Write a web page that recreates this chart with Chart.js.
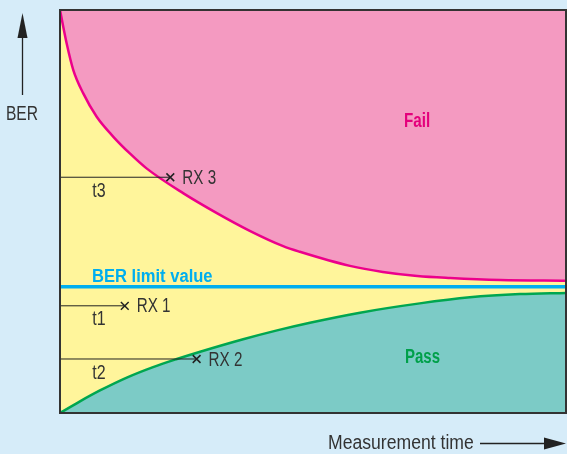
<!DOCTYPE html>
<html>
<head>
<meta charset="utf-8">
<script src="https://cdn.jsdelivr.net/npm/chart.js@4/dist/chart.umd.min.js"></script>
<style>
  html, body { margin: 0; padding: 0; background: #d6ecf9; }
  #wrap { width: 567px; height: 454px; }
</style>
</head>
<body>
<div id="wrap"><canvas id="berChart" width="567" height="454"></canvas></div>
<script>
const failX = [0, 1.32, 2.63, 4.6, 7.25, 10.5, 13.8, 17.1, 24.4, 31.0, 37.5, 44.1, 47.4, 57.3, 63.8, 70.6, 77.1, 87.0, 100];
const failY = [100, 91.7, 85.1, 79.3, 73.5, 68.6, 64.4, 60.7, 54.5, 49.6, 45.2, 41.4, 40.0, 36.5, 35.0, 34.0, 33.5, 33.0, 32.8];
const passX = [0, 3.95, 7.9, 13.2, 18.4, 23.1, 27.7, 36.2, 42.9, 49.4, 59.3, 71.1, 81.0, 90.9, 100];
const passY = [0, 2.9, 5.6, 8.8, 11.4, 13.4, 15.2, 18.3, 20.5, 22.4, 24.9, 27.2, 28.7, 29.5, 29.8];
const limitValue = 31.3;
const receiverNames = ["RX 1", "RX 2", "RX 3"];
const timeNames = ["t1", "t2", "t3"];
const receiverX = [12.8, 27.0, 21.8];
const receiverY = [26.6, 13.4, 58.5];

const toPoints = (xs, ys) => xs.map((x, i) => ({x: x, y: ys[i]}));
const family = '"Liberation Sans", Arial, sans-serif';

const receiverSets = receiverNames.map((name, i) => ({
    label: name,
    data: [{x: 0, y: receiverY[i]}, {x: receiverX[i], y: receiverY[i]}],
    borderColor: "#222",
    borderWidth: 1,
    pointStyle: "crossRot",
    pointRadius: [0, 5.5],
    pointBorderColor: "#222",
    pointBorderWidth: 1.5,
    fill: false,
    order: 0
}));

// narrow text: the original uses a condensed face
function drawText(ctx, text, x, y, font, color, sx, align) {
    ctx.save();
    ctx.font = font;
    ctx.fillStyle = color;
    ctx.textBaseline = "middle";
    ctx.textAlign = align || "left";
    ctx.translate(x, y);
    ctx.scale(sx, 1);
    ctx.fillText(text, 0, 0);
    ctx.restore();
}

const decorations = {
    id: "decorations",
    beforeDatasetsDraw(chart) {
        const {ctx, chartArea: a} = chart;
        ctx.save();
        ctx.fillStyle = "#fff59b";
        ctx.fillRect(a.left, a.top, a.right - a.left, a.bottom - a.top);
        ctx.restore();
    },
    afterDatasetsDraw(chart) {
        const {ctx, chartArea: a, scales: {x, y}} = chart;
        ctx.save();
        ctx.strokeStyle = "#333";
        ctx.lineWidth = 2;
        ctx.strokeRect(a.left, a.top, a.right - a.left, a.bottom - a.top);
        ctx.restore();

        const normal = "20px " + family;
        const bold = "bold 20px " + family;
        receiverNames.forEach((name, i) => {
            const px = x.getPixelForValue(receiverX[i]);
            const py = y.getPixelForValue(receiverY[i]);
            drawText(ctx, name, px + 12, py + 1, normal, "#333", 0.76);
            drawText(ctx, timeNames[i], a.left + 39, py + 14, normal, "#333", 0.8, "center");
        });

        drawText(ctx, "BER limit value", a.left + 32, y.getPixelForValue(limitValue) - 10,
                 "bold 18px " + family, "#00aeef", 0.92);
        drawText(ctx, "Fail", 404, 121, bold, "#e4007c", 0.76);
        drawText(ctx, "Pass", 405, 357, bold, "#00a04a", 0.75);

        drawText(ctx, "BER", 22, 114, normal, "#333", 0.78, "center");
        drawText(ctx, "Measurement time", 328, 443, normal, "#333", 0.88);

        // axis arrows
        ctx.save();
        ctx.strokeStyle = "#222";
        ctx.lineWidth = 1.3;
        ctx.beginPath();
        ctx.moveTo(22.5, 95); ctx.lineTo(22.5, 30);
        ctx.moveTo(480, 443.5); ctx.lineTo(550, 443.5);
        ctx.stroke();
        ctx.fillStyle = "#222";
        ctx.beginPath();
        ctx.moveTo(22.5, 13); ctx.lineTo(17.5, 38); ctx.lineTo(27.5, 38); ctx.closePath();
        ctx.fill();
        ctx.beginPath();
        ctx.moveTo(566, 443.5); ctx.lineTo(544, 437.5); ctx.lineTo(544, 449.5); ctx.closePath();
        ctx.fill();
        ctx.restore();
    }
};

new Chart(document.getElementById("berChart"), {
    type: "line",
    data: {
        datasets: [
            {
                label: "Fail",
                data: toPoints(failX, failY),
                borderColor: "#ec008c",
                borderWidth: 2.5,
                backgroundColor: "#f49ac1",
                fill: "end",
                pointRadius: 0,
                cubicInterpolationMode: "monotone",
                order: 2
            },
            {
                label: "Pass",
                data: toPoints(passX, passY),
                borderColor: "#00a650",
                borderWidth: 2.5,
                backgroundColor: "#7ccbc6",
                fill: "origin",
                pointRadius: 0,
                cubicInterpolationMode: "monotone",
                order: 2
            },
            {
                label: "BER limit value",
                data: [{x: 0, y: limitValue}, {x: 100, y: limitValue}],
                borderColor: "#00aeef",
                borderWidth: 3.5,
                pointRadius: 0,
                fill: false,
                order: 1
            },
            ...receiverSets
        ]
    },
    options: {
        responsive: false,
        animation: false,
        layout: {autoPadding: false, padding: {left: 60, top: 10, right: 1, bottom: 41}},
        plugins: {legend: {display: false}, tooltip: {enabled: false}},
        scales: {
            x: {type: "linear", min: 0, max: 100, display: false},
            y: {min: 0, max: 100, display: false}
        }
    },
    plugins: [decorations]
});
</script>
</body>
</html>
